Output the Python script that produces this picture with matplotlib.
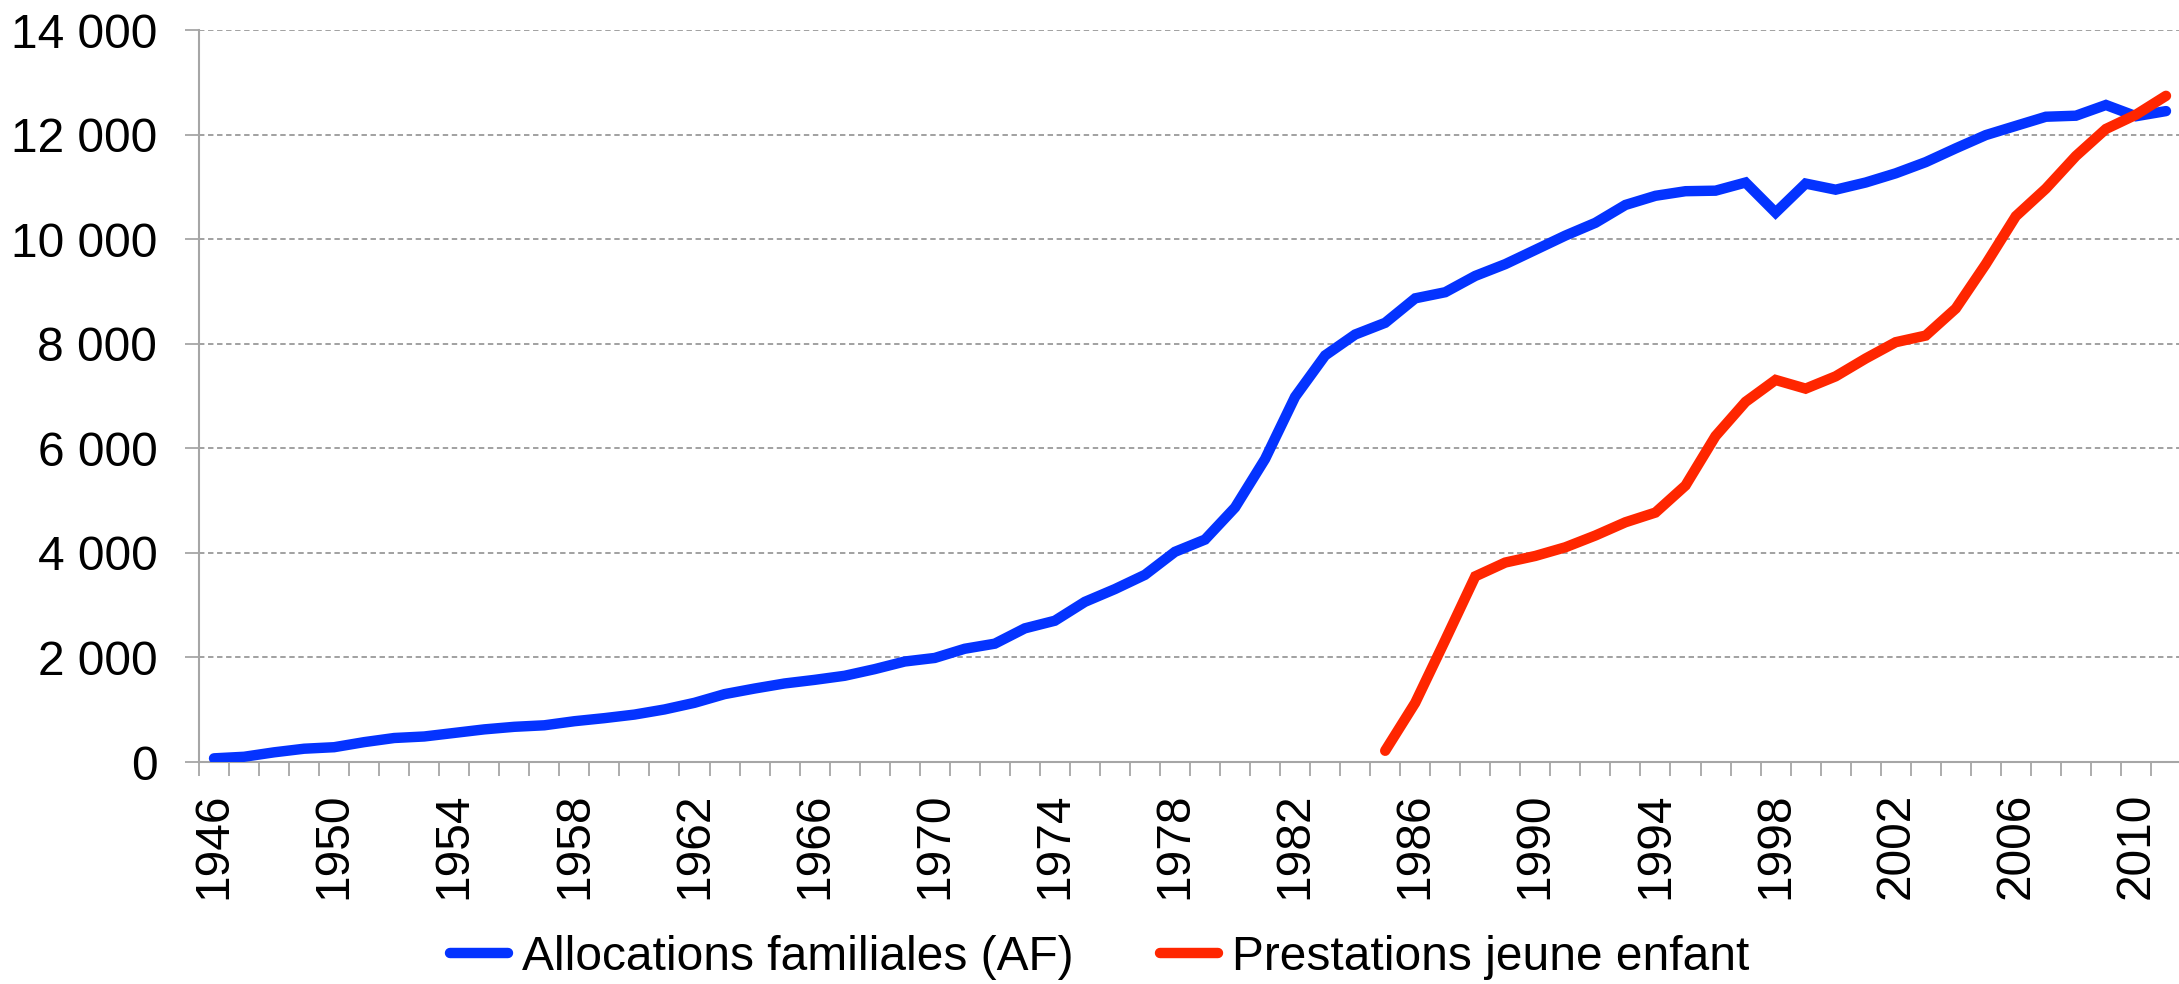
import matplotlib
matplotlib.use("Agg")
import matplotlib.pyplot as plt
from matplotlib.ticker import FuncFormatter, FixedLocator

plt.rcParams['font.family'] = ['Liberation Sans', 'DejaVu Sans']

# years 1946 -> 2011
years = list(range(1946, 2012))

# Allocations familiales (AF)
af = [70, 100, 185, 254, 283, 380, 459, 488, 556, 624,
      673, 702, 780, 839, 907, 1005, 1132, 1298, 1405, 1502,
      1571, 1649, 1776, 1922, 1990, 2166, 2263, 2556, 2702, 3063,
      3307, 3580, 4020, 4254, 4868, 5795, 6985, 7776, 8176, 8400,
      8868, 8985, 9297, 9522, 9795, 10068, 10312, 10654, 10829, 10917,
      10927, 11083, 10507, 11063, 10946, 11083, 11259, 11473, 11737, 11990,
      12166, 12341, 12361, 12566, 12351, 12449]

# Prestations jeune enfant (from 1985)
pje_years = list(range(1985, 2012))
pje = [215, 1132, 2332, 3551, 3815, 3941, 4107, 4332, 4585, 4771,
       5288, 6234, 6888, 7307, 7141, 7376, 7717, 8029, 8156, 8673,
       9522, 10439, 10966, 11590, 12107, 12380, 12741]

blue = '#0433FF'
red = '#FF2600'
gray = '#A6A6A6'
fs = 34.5

W, H = 2179, 984
fig = plt.figure(figsize=(W / 100, H / 100), dpi=100)
ax = fig.add_axes([199 / W, (H - 762) / H, (2181 - 199) / W, (762 - 30) / H])

x_af = [y - years[0] for y in years]
x_pje = [y - years[0] for y in pje_years]
ax.plot(x_af, af, color=blue, lw=7.5, solid_capstyle='round',
        solid_joinstyle='miter', label='Allocations familiales (AF)', zorder=3)
ax.plot(x_pje, pje, color=red, lw=7.5, solid_capstyle='round',
        solid_joinstyle='miter', label='Prestations jeune enfant', zorder=3)

ax.set_xlim(-0.5, len(years) - 0.5)
ax.set_ylim(0, 14000)

# y axis
ax.set_yticks(range(0, 14001, 2000))
ax.yaxis.set_major_formatter(FuncFormatter(lambda v, p: f"{int(v):,}".replace(",", " ")))
ax.yaxis.grid(True, color='#9A9A9A', lw=1.3, linestyle=(0, (3, 2)))
ax.set_axisbelow(True)
ax.tick_params(axis='y', length=10, width=1.3, color=gray, pad=20, labelsize=fs)

# x axis: labels every 4 years, ticks at category edges
lab_idx = list(range(0, len(years), 4))
ax.xaxis.set_major_locator(FixedLocator(lab_idx))
ax.set_xticklabels([str(years[i]) for i in lab_idx], rotation=90)
ax.xaxis.set_minor_locator(FixedLocator([i - 0.5 for i in range(len(years) + 1)]))
ax.tick_params(axis='x', which='major', length=0, pad=22, labelsize=fs)
ax.tick_params(axis='x', which='minor', length=10, width=1.3, color=gray)

for s in ['top', 'right']:
    ax.spines[s].set_visible(False)
for s in ['left', 'bottom']:
    ax.spines[s].set_color(gray)
    ax.spines[s].set_linewidth(1.5)

fig.legend(loc='center', bbox_to_anchor=(1100 / W, 1 - 957 / H), ncol=2,
           frameon=False, fontsize=fs, handlelength=1.2, handletextpad=0.3,
           columnspacing=1.8)

fig.savefig('out.png', dpi=100)
